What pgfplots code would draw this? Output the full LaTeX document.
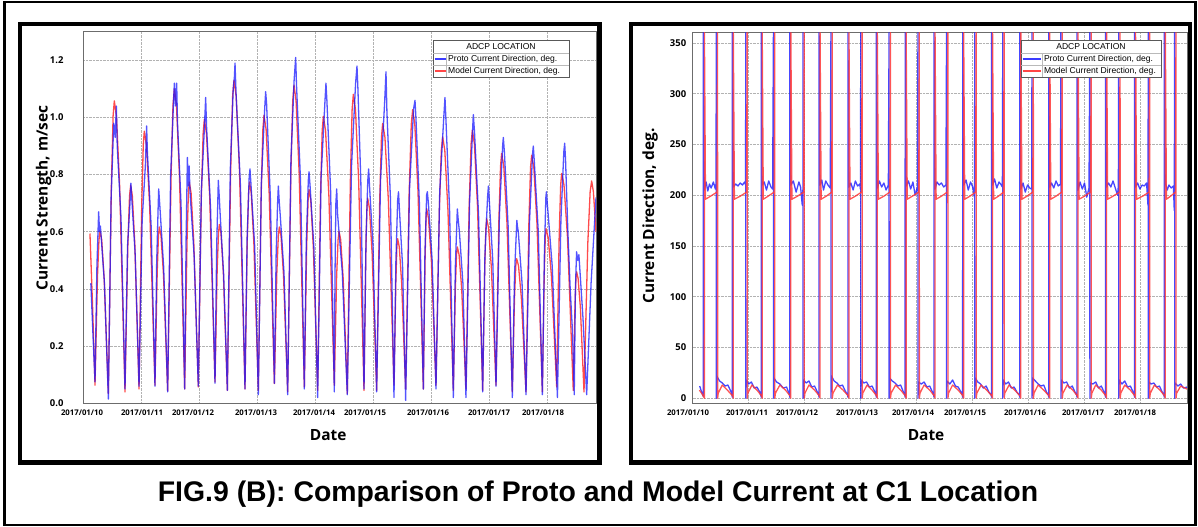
\documentclass[border=0pt]{standalone}
\usepackage{pgfplots}
\pgfplotsset{compat=1.18}
\usepackage{fontspec}
\setmainfont{Open Sans}
\newfontfamily\arialfont{Liberation Sans}

\definecolor{proto}{RGB}{25,25,255}
\definecolor{model}{RGB}{255,55,55}
% date label shifted sideways by half the kern
\newcommand{\dl}[2]{\hbox to 0pt{\hss\kern#1bp\relax 2017/01/#2\hss}}
\newcommand{\legfont}{\arialfont\fontsize{8.6}{9}\selectfont}

\pgfplotsset{
  panel/.style={
    scale only axis, anchor=south west,
    xmin=0, xmax=8.845,
    axis line style={gray!85!black, line width=0.8bp},
    grid=major, grid style={densely dotted, gray!60, line width=0.6bp},
    major tick length=0pt,
    xtick={0,1,2,3,4,5,6,7,8},
    xticklabel style={font=\bfseries\fontsize{7.8}{8}\selectfont, yshift=-3bp},
    yticklabel style={font=\bfseries\fontsize{9.5}{10}\selectfont},
    /pgf/number format/assume math mode=true,
    xlabel={Date},
    label style={font=\bfseries\fontsize{15.5}{17}\selectfont},
    every axis plot/.append style={line width=1.3bp, line join=round},
  },
}

\begin{document}
\begin{tikzpicture}
\useasboundingbox (0,0) rectangle (1198bp,527bp);

% ---- left panel: current strength ----
\begin{axis}[panel,
    at={(83bp,123.7bp)}, width=513bp, height=371.6bp,
    ymin=0, ymax=1.3,
    ytick={0,0.2,0.4,0.6,0.8,1.0,1.2},
    yticklabel style={/pgf/number format/fixed, /pgf/number format/fixed zerofill,
                      /pgf/number format/precision=1, xshift=-16bp},
    xticklabels={{\dl{-2}{10}},{\dl{2}{11}},{\dl{-12}{12}},{\dl{-2}{13}},{\dl{-2}{14}},
                 {\dl{-16}{15}},{\dl{-6}{16}},{\dl{0}{17}},{\dl{-8}{18}}},
    xlabel style={at={(rel axis cs:0.478,-0.085)}, anchor=center},
    ylabel={Current Strength, m/sec},
    ylabel style={at={(rel axis cs:-0.077,0.552)}, anchor=center},
]
\addplot[model, opacity=0.9] coordinates {
(0.12,0.594) (0.165,0.34) (0.207,0.063)
(0.25,0.445) (0.276,0.573) (0.293,0.603) (0.322,0.573) (0.365,0.436) (0.437,0.034)
(0.489,0.758) (0.519,1.005) (0.54,1.058) (0.577,1.005) (0.632,0.76) (0.724,0.04)
(0.773,0.551) (0.802,0.725) (0.822,0.763) (0.851,0.725) (0.894,0.554) (0.966,0.05)
(1.012,0.688) (1.039,0.904) (1.057,0.952) (1.094,0.904) (1.149,0.692) (1.241,0.063)
(1.279,0.455) (1.301,0.586) (1.316,0.617) (1.345,0.586) (1.388,0.449) (1.46,0.043)
(1.518,0.79) (1.552,1.045) (1.575,1.10) (1.611,1.045) (1.664,0.792) (1.753,0.05)
(1.793,0.562) (1.817,0.735) (1.833,0.774) (1.864,0.735) (1.91,0.564) (1.988,0.057)
(2.04,0.719) (2.071,0.943) (2.092,0.993) (2.129,0.943) (2.184,0.724) (2.276,0.075)
(2.313,0.465) (2.336,0.595) (2.351,0.626) (2.379,0.595) (2.42,0.456) (2.489,0.045)
(2.546,0.812) (2.58,1.074) (2.603,1.13) (2.641,1.074) (2.698,0.814) (2.793,0.05)
(2.831,0.562) (2.855,0.735) (2.87,0.774) (2.901,0.735) (2.946,0.56) (3.023,0.045)
(3.072,0.726) (3.101,0.958) (3.121,1.008) (3.157,0.958) (3.21,0.733) (3.3,0.069)
(3.342,0.456) (3.368,0.586) (3.385,0.617) (3.414,0.586) (3.457,0.448) (3.529,0.04)
(3.583,0.799) (3.616,1.057) (3.638,1.113) (3.674,1.057) (3.727,0.804) (3.816,0.057)
(3.856,0.546) (3.881,0.711) (3.897,0.748) (3.927,0.711) (3.972,0.542) (4.046,0.045)
(4.095,0.723) (4.124,0.954) (4.144,1.004) (4.182,0.954) (4.239,0.728) (4.333,0.063)
(4.373,0.444) (4.398,0.572) (4.414,0.602) (4.443,0.572) (4.486,0.436) (4.557,0.034)
(4.609,0.774) (4.64,1.027) (4.661,1.081) (4.698,1.027) (4.753,0.777) (4.845,0.045)
(4.876,0.521) (4.895,0.682) (4.908,0.718) (4.939,0.682) (4.986,0.521) (5.063,0.045)
(5.115,0.705) (5.146,0.93) (5.167,0.979) (5.206,0.93) (5.265,0.711) (5.362,0.063)
(5.394,0.426) (5.412,0.547) (5.425,0.576) (5.453,0.547) (5.494,0.422) (5.563,0.05)
(5.624,0.741) (5.66,0.976) (5.684,1.027) (5.721,0.976) (5.776,0.741) (5.868,0.05)
(5.897,0.496) (5.914,0.647) (5.925,0.681) (5.957,0.647) (6.006,0.5) (6.086,0.063)
(6.144,0.677) (6.178,0.885) (6.201,0.932) (6.238,0.885) (6.293,0.672) (6.385,0.045)
(6.42,0.4) (6.44,0.52) (6.454,0.547) (6.484,0.52) (6.529,0.401) (6.603,0.05)
(6.658,0.69) (6.691,0.907) (6.713,0.955) (6.749,0.907) (6.802,0.688) (6.891,0.045)
(6.926,0.47) (6.946,0.614) (6.96,0.646) (6.992,0.614) (7.041,0.475) (7.121,0.063)
(7.17,0.636) (7.199,0.83) (7.218,0.874) (7.255,0.83) (7.31,0.63) (7.402,0.04)
(7.44,0.369) (7.462,0.481) (7.477,0.506) (7.509,0.481) (7.558,0.369) (7.638,0.04)
(7.687,0.625) (7.716,0.825) (7.736,0.868) (7.773,0.825) (7.828,0.625) (7.92,0.04)
(7.952,0.444) (7.97,0.58) (7.983,0.611) (8.02,0.58) (8.075,0.449) (8.167,0.057)
(8.21,0.585) (8.236,0.764) (8.253,0.804) (8.293,0.764) (8.353,0.582) (8.453,0.045)
(8.482,0.338) (8.499,0.437) (8.511,0.46) (8.536,0.437) (8.575,0.337) (8.638,0.04)
(8.704,0.562) (8.744,0.74) (8.77,0.778) (8.80,0.74) (8.845,0.6)
};
\addplot[proto, opacity=0.75] coordinates {
(0.135,0.42) (0.17,0.25) (0.207,0.075) (0.24,0.48) (0.27,0.67) (0.285,0.6) (0.3,0.62) (0.37,0.42) (0.437,0.015)
(0.485,0.72) (0.53,0.98) (0.555,0.93) (0.575,1.04) (0.59,0.9) (0.655,0.65) (0.724,0.05)
(0.768,0.55) (0.81,0.7) (0.826,0.77) (0.84,0.72) (0.9,0.52) (0.966,0.06)
(1.02,0.64) (1.075,0.83) (1.097,0.97) (1.11,0.88) (1.175,0.62) (1.241,0.06)
(1.27,0.49) (1.295,0.68) (1.305,0.75) (1.325,0.69) (1.39,0.48) (1.46,0.04)
(1.51,0.79) (1.56,1.05) (1.575,1.12) (1.595,1.04) (1.615,1.12) (1.63,0.98) (1.69,0.7) (1.753,0.05)
(1.778,0.58) (1.8,0.86) (1.815,0.76) (1.83,0.83) (1.845,0.74) (1.915,0.52) (1.988,0.06)
(2.04,0.74) (2.09,0.95) (2.115,1.07) (2.13,0.97) (2.2,0.68) (2.276,0.07)
(2.305,0.55) (2.333,0.78) (2.35,0.72) (2.365,0.66) (2.425,0.45) (2.489,0.045)
(2.54,0.82) (2.59,1.1) (2.61,1.14) (2.621,1.19) (2.64,1.08) (2.715,0.76) (2.793,0.05)
(2.83,0.58) (2.865,0.79) (2.879,0.82) (2.895,0.77) (2.96,0.55) (3.023,0.03)
(3.075,0.77) (3.13,1.02) (3.149,1.09) (3.165,1.05) (3.23,0.72) (3.3,0.07)
(3.33,0.52) (3.355,0.7) (3.368,0.76) (3.385,0.7) (3.4,0.66) (3.465,0.46) (3.529,0.03)
(3.585,0.85) (3.64,1.13) (3.667,1.21) (3.68,1.12) (3.75,0.78) (3.816,0.05)
(3.85,0.57) (3.885,0.78) (3.897,0.81) (3.915,0.76) (3.98,0.55) (4.046,0.02)
(4.105,0.79) (4.17,1.05) (4.189,1.12) (4.205,1.06) (4.27,0.74) (4.333,0.04)
(4.345,0.45) (4.36,0.7) (4.374,0.75) (4.39,0.66) (4.47,0.46) (4.557,0.03)
(4.63,0.83) (4.7,1.12) (4.724,1.18) (4.74,1.1) (4.79,0.78) (4.845,0.05)
(4.88,0.58) (4.91,0.78) (4.925,0.82) (4.94,0.76) (5.0,0.55) (5.063,0.04)
(5.13,0.78) (5.2,1.05) (5.224,1.16) (5.24,1.02) (5.3,0.72) (5.362,0.02)
(5.395,0.5) (5.425,0.71) (5.44,0.74) (5.455,0.68) (5.51,0.48) (5.563,0.01)
(5.63,0.75) (5.7,1.03) (5.724,1.06) (5.74,1.0) (5.8,0.7) (5.868,0.05)
(5.895,0.52) (5.925,0.73) (5.937,0.74) (5.955,0.7) (6.02,0.5) (6.086,0.05)
(6.15,0.74) (6.22,1.0) (6.241,1.07) (6.26,0.98) (6.32,0.68) (6.385,0.02)
(6.42,0.48) (6.454,0.68) (6.47,0.64) (6.49,0.6) (6.55,0.42) (6.603,0.02)
(6.665,0.7) (6.72,0.97) (6.73,1.01) (6.75,0.95) (6.82,0.66) (6.891,0.04)
(6.93,0.52) (6.975,0.72) (6.99,0.76) (7.005,0.71) (7.065,0.5) (7.121,0.06)
(7.18,0.66) (7.235,0.9) (7.247,0.93) (7.265,0.88) (7.33,0.62) (7.402,0.02)
(7.44,0.45) (7.48,0.64) (7.49,0.62) (7.505,0.6) (7.57,0.42) (7.638,0.03)
(7.7,0.64) (7.75,0.87) (7.764,0.9) (7.78,0.85) (7.85,0.6) (7.92,0.03)
(7.955,0.52) (7.98,0.72) (7.99,0.74) (8.005,0.7) (8.09,0.48) (8.18,0.02)
(8.24,0.64) (8.29,0.88) (8.305,0.91) (8.32,0.85) (8.36,0.6) (8.4,0.4) (8.44,0.25) (8.47,0.03)
(8.49,0.4) (8.51,0.53) (8.53,0.5) (8.55,0.52) (8.62,0.3) (8.684,0.03)
(8.76,0.42) (8.845,0.72)
};
\end{axis}

% ---- right panel: current direction ----
\begin{axis}[panel,
    at={(692.7bp,123.7bp)}, width=494.4bp, height=370.6bp,
    ymin=-5, ymax=360,
    ytick={0,50,100,150,200,250,300,350},
    yticklabel style={xshift=-3bp},
    xticklabels={{\dl{-9.4}{10}},{\dl{-3.2}{11}},{\dl{-15}{12}},{\dl{-6.8}{13}},{\dl{-6.6}{14}},
                 {\dl{-14.4}{15}},{\dl{-6.2}{16}},{\dl{-2}{17}},{\dl{-9.8}{18}}},
    xlabel style={at={(rel axis cs:0.472,-0.085)}, anchor=center},
    ylabel={Current Direction, deg.},
    ylabel style={at={(rel axis cs:-0.0864,0.505)}, anchor=center},
]
\addplot[proto, opacity=0.8] coordinates {
(0.125,12) (0.16,6) (0.188,2) (0.189,360) (0.2,225) (0.21,205) (0.24,213) (0.27,204) (0.3,211) (0.33,207) (0.37,213) (0.405,206) (0.418,212)
(0.421,360) (0.422,0) (0.43,22) (0.48,17) (0.53,15) (0.58,12) (0.63,13) (0.68,7) (0.7,4)
(0.708,1) (0.709,360) (0.72,230) (0.728,208) (0.77,211) (0.81,209) (0.85,212) (0.89,210) (0.93,213) (0.945,210)
(0.95,360) (0.951,0) (0.958,18) (1.0,14) (1.05,16) (1.1,10) (1.15,11) (1.2,6) (1.222,2)
(1.225,1) (1.226,360) (1.236,220) (1.245,210) (1.28,213) (1.32,205) (1.36,214) (1.4,208) (1.43,206)
(1.444,360) (1.445,0) (1.452,20) (1.5,16) (1.56,14) (1.62,10) (1.68,11) (1.72,5) (1.733,3)
(1.737,1) (1.738,360) (1.748,225) (1.757,210) (1.8,214) (1.85,203) (1.9,213) (1.93,208) (1.96,190) (1.968,205) (1.972,190)
(1.974,360) (1.975,0) (1.982,18) (2.03,15) (2.08,17) (2.13,11) (2.18,12) (2.23,6) (2.255,3)
(2.26,1) (2.261,360) (2.27,220) (2.28,210) (2.31,215) (2.34,205) (2.38,214) (2.42,210) (2.46,207)
(2.473,360) (2.474,0) (2.481,22) (2.53,17) (2.58,15) (2.63,12) (2.68,13) (2.73,7) (2.772,3)
(2.777,1) (2.778,360) (2.788,225) (2.797,208) (2.83,212) (2.87,205) (2.91,214) (2.95,209) (2.99,211) (3.0,206)
(3.007,360) (3.008,0) (3.015,18) (3.06,15) (3.11,16) (3.16,11) (3.21,12) (3.26,6) (3.28,3)
(3.284,1) (3.285,360) (3.295,220) (3.304,207) (3.34,214) (3.38,208) (3.42,212) (3.46,205) (3.5,210)
(3.513,360) (3.514,0) (3.521,20) (3.57,17) (3.62,15) (3.67,12) (3.72,13) (3.77,6) (3.795,3)
(3.8,1) (3.801,360) (3.811,222) (3.82,209) (3.86,214) (3.9,206) (3.94,213) (3.98,200) (4.02,208)
(4.03,360) (4.031,0) (4.038,16) (4.09,14) (4.14,16) (4.19,11) (4.24,12) (4.29,6) (4.31,3)
(4.317,1) (4.318,360) (4.328,220) (4.337,206) (4.37,213) (4.41,210) (4.45,212) (4.49,208) (4.53,210)
(4.541,360) (4.542,0) (4.549,17) (4.6,14) (4.65,18) (4.7,12) (4.75,11) (4.8,6) (4.825,3)
(4.829,1) (4.83,360) (4.84,220) (4.849,210) (4.89,215) (4.93,205) (4.97,213) (5.01,208) (5.04,198)
(5.047,360) (5.048,0) (5.055,20) (5.1,16) (5.15,14) (5.2,10) (5.25,12) (5.3,6) (5.34,3)
(5.346,1) (5.347,360) (5.357,225) (5.366,210) (5.4,216) (5.44,207) (5.48,213) (5.52,210) (5.54,208)
(5.547,360) (5.548,0) (5.555,18) (5.6,14) (5.65,16) (5.7,10) (5.75,11) (5.8,6) (5.845,3)
(5.852,1) (5.853,360) (5.863,220) (5.872,206) (5.91,212) (5.95,203) (5.99,210) (6.03,207) (6.065,206)
(6.07,360) (6.071,0) (6.078,20) (6.13,17) (6.18,14) (6.23,12) (6.28,13) (6.33,6) (6.365,3)
(6.369,1) (6.37,360) (6.38,222) (6.389,208) (6.42,212) (6.46,207) (6.5,214) (6.54,209) (6.58,211)
(6.587,360) (6.588,0) (6.595,18) (6.64,15) (6.69,16) (6.74,10) (6.79,12) (6.84,6) (6.87,3)
(6.875,1) (6.876,360) (6.886,220) (6.895,205) (6.93,213) (6.97,206) (7.01,212) (7.05,198) (7.09,207)
(7.105,360) (7.106,0) (7.113,15) (7.16,14) (7.21,16) (7.26,10) (7.31,12) (7.36,6) (7.38,3)
(7.386,1) (7.387,360) (7.397,225) (7.406,208) (7.44,212) (7.48,208) (7.52,214) (7.56,207) (7.6,200) (7.615,209)
(7.622,360) (7.623,0) (7.63,18) (7.68,14) (7.73,17) (7.78,11) (7.83,12) (7.88,6) (7.9,3)
(7.904,1) (7.905,360) (7.915,225) (7.924,208) (7.96,212) (8.0,206) (8.04,210) (8.08,209) (8.12,212) (8.145,190)
(8.151,360) (8.152,0) (8.159,16) (8.2,14) (8.25,15) (8.3,11) (8.35,12) (8.4,6) (8.43,3)
(8.437,1) (8.438,360) (8.448,225) (8.457,212) (8.49,205) (8.52,210) (8.56,207) (8.6,209) (8.615,185)
(8.622,360) (8.623,0) (8.63,15) (8.68,12) (8.73,14) (8.78,10) (8.845,11)
};
\addplot[model, opacity=0.85] coordinates {
(0.12,8) (0.17,4) (0.209,0) (0.21,360) (0.229,196) (0.32,199) (0.435,203) (0.445,360) (0.446,0) (0.457,5)
(0.53,13) (0.62,8) (0.719,2) (0.726,0) (0.727,360) (0.746,196) (0.85,199) (0.964,203) (0.974,360) (0.975,0) (0.986,5)
(1.06,13) (1.15,8) (1.236,2) (1.243,0) (1.244,360) (1.263,196) (1.35,199) (1.458,203) (1.468,360) (1.469,0) (1.48,5)
(1.56,13) (1.66,8) (1.748,2) (1.755,0) (1.756,360) (1.775,196) (1.875,199) (1.986,203) (1.996,360) (1.997,0) (2.008,5)
(2.08,13) (2.18,8) (2.271,2) (2.278,0) (2.279,360) (2.298,196) (2.39,199) (2.487,203) (2.497,360) (2.498,0) (2.509,5)
(2.59,13) (2.69,8) (2.788,2) (2.795,0) (2.796,360) (2.815,196) (2.91,199) (3.021,203) (3.031,360) (3.032,0) (3.043,5)
(3.12,13) (3.21,8) (3.295,2) (3.302,0) (3.303,360) (3.322,196) (3.42,199) (3.527,203) (3.537,360) (3.538,0) (3.549,5)
(3.63,13) (3.72,8) (3.811,2) (3.818,0) (3.819,360) (3.838,196) (3.93,199) (4.044,203) (4.054,360) (4.055,0) (4.066,5)
(4.14,13) (4.24,8) (4.328,2) (4.335,0) (4.336,360) (4.355,196) (4.45,199) (4.555,203) (4.565,360) (4.566,0) (4.577,5)
(4.65,13) (4.75,8) (4.84,2) (4.847,0) (4.848,360) (4.867,196) (4.96,199) (5.061,203) (5.071,360) (5.072,0) (5.083,5)
(5.16,13) (5.26,8) (5.357,2) (5.364,0) (5.365,360) (5.384,196) (5.47,199) (5.561,203) (5.571,360) (5.572,0) (5.583,5)
(5.66,13) (5.76,8) (5.863,2) (5.87,0) (5.871,360) (5.89,196) (5.98,199) (6.084,203) (6.094,360) (6.095,0) (6.106,5)
(6.18,13) (6.28,8) (6.38,2) (6.387,0) (6.388,360) (6.407,196) (6.5,199) (6.601,203) (6.611,360) (6.612,0) (6.623,5)
(6.7,13) (6.8,8) (6.886,2) (6.893,0) (6.894,360) (6.913,196) (7.01,199) (7.119,203) (7.129,360) (7.13,0) (7.141,5)
(7.21,13) (7.31,8) (7.397,2) (7.404,0) (7.405,360) (7.424,196) (7.52,199) (7.636,203) (7.646,360) (7.647,0) (7.658,5)
(7.73,13) (7.83,8) (7.915,2) (7.922,0) (7.923,360) (7.942,196) (8.05,199) (8.165,203) (8.175,360) (8.176,0) (8.187,5)
(8.26,13) (8.36,8) (8.448,2) (8.455,0) (8.456,360) (8.475,196) (8.55,199) (8.636,203) (8.646,360) (8.647,0) (8.658,5)
(8.73,12) (8.845,9)
};
\end{axis}

% ---- frames, legends, caption (page coordinates, 1 unit = 1 px) ----
\begin{scope}[x=1bp, y=1bp]
\draw[line width=2.5bp] (4.5,525) rectangle (1195.5,2);
\draw[line width=4.5bp] (20,503) rectangle (599.5,64.5);
\draw[line width=4.5bp] (631,503) rectangle (1190,64.5);

% left legend
\filldraw[fill=white, draw=gray!70!black, line width=0.7bp] (433,487) rectangle (569,450);
\draw[gray!55, line width=0.6bp] (433,473.5) -- (569,473.5) (433,461.5) -- (569,461.5)
      (446.5,473.5) -- (446.5,450);
\node[font=\legfont] at (501,480.3) {ADCP LOCATION};
\draw[draw={rgb,255:red,60;green,60;blue,255}, line width=2bp] (434.5,467.5) -- (445.5,467.5);
\draw[draw={rgb,255:red,255;green,70;blue,70}, line width=2bp] (434.5,455.5) -- (445.5,455.5);
\node[font=\legfont, anchor=west, inner sep=0pt] at (448,467.5) {Proto Current Direction, deg.};
\node[font=\legfont, anchor=west, inner sep=0pt] at (448,455.5) {Model Current Direction, deg.};

% right legend
\filldraw[fill=white, draw=gray!70!black, line width=0.7bp] (1021,487) rectangle (1161,450);
\draw[gray!55, line width=0.6bp] (1021,473.5) -- (1161,473.5) (1021,461.5) -- (1161,461.5)
      (1042.3,473.5) -- (1042.3,450);
\node[font=\legfont] at (1091,480.3) {ADCP LOCATION};
\draw[draw={rgb,255:red,60;green,60;blue,255}, line width=2bp] (1022.5,467.5) -- (1041.3,467.5);
\draw[draw={rgb,255:red,255;green,70;blue,70}, line width=2bp] (1022.5,455.5) -- (1041.3,455.5);
\node[font=\legfont, anchor=west, inner sep=0pt] at (1043.8,467.5) {Proto Current Direction, deg.};
\node[font=\legfont, anchor=west, inner sep=0pt] at (1043.8,455.5) {Model Current Direction, deg.};

\node[font=\arialfont\bfseries\fontsize{28.5}{30}\selectfont, anchor=base]
  at (598,26) {FIG.9 (B): Comparison of Proto and Model Current at C1 Location};
\end{scope}
\end{tikzpicture}
\end{document}
